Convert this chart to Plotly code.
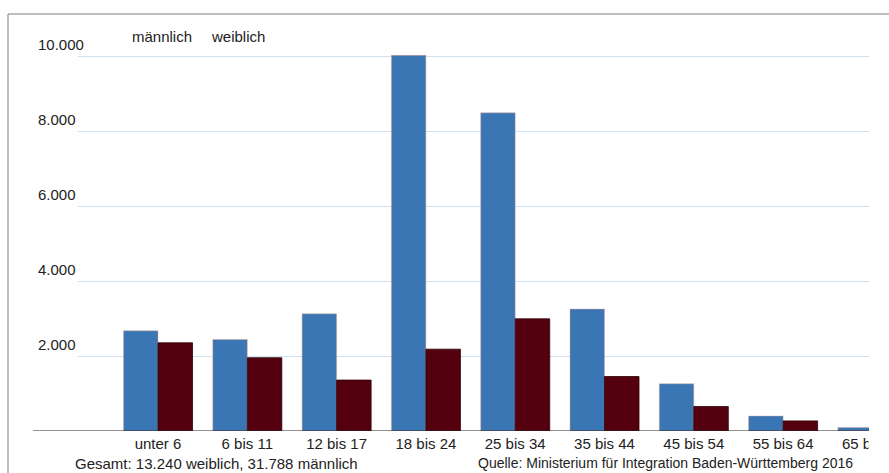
import plotly.graph_objects as go

# Age groups and refugee counts (Baden-Württemberg, 2016)
age_groups = ["unter 6", "6 bis 11", "12 bis 17", "18 bis 24", "25 bis 34",
              "35 bis 44", "45 bis 54", "55 bis 64", "65 bis 74"]
maennlich = [2675, 2445, 3130, 10030, 8495, 3255, 1262, 400, 96]
weiblich = [2355, 1955, 1360, 2185, 2995, 1455, 655, 270, 10]
y_ticks = [2000, 4000, 6000, 8000, 10000]

W, H = 889, 473
ML, MR, MT, MB = 78, 20, 40, 42
PW, PH = W - ML - MR, H - MT - MB
Y_MAX = 10440
X_RANGE = [-0.896, 7.962]


def px_x(p):
    return (p - ML) / PW


def px_y(p):
    return (H - MB - p) / PH


def cat_to_paper(i):
    return (i - X_RANGE[0]) / (X_RANGE[1] - X_RANGE[0])


def de_num(v):
    return f"{v:,}".replace(",", ".")


BLUE = "#3a76b3"
RED = "#55000f"
TXT = "#222222"
FONT = "Liberation Sans, Arial, sans-serif"

fig = go.Figure()
fig.add_bar(x=age_groups, y=maennlich, name="männlich",
            marker=dict(color=BLUE, line=dict(color="rgba(225,160,150,0.55)", width=0.8)))
fig.add_bar(x=age_groups, y=weiblich, name="weiblich",
            marker=dict(color=RED, line=dict(color="#2a0006", width=0.8)))

annotations = []
for t in y_ticks:
    annotations.append(dict(x=px_x(36), xref="paper", y=t, yref="y",
                            text=de_num(t), showarrow=False, xanchor="left",
                            yanchor="middle", yshift=12,
                            font=dict(size=15, color=TXT, family=FONT)))

annotations += [
    # last category sits past the right edge of the axis, its label is cut off
    dict(x=cat_to_paper(len(age_groups) - 1), xref="paper", y=px_y(443), yref="paper",
         text=age_groups[-1], showarrow=False, xanchor="center", yanchor="middle",
         font=dict(size=15, color=TXT, family=FONT)),
    # white strip that crops the right end of the chart area
    dict(x=px_x(868), xref="paper", y=px_y(443), yref="paper", text=" ",
         showarrow=False, xanchor="left", yanchor="middle", width=40, height=22,
         bgcolor="white", borderpad=0, font=dict(size=10)),
    dict(x=px_x(130), y=px_y(37), xref="paper", yref="paper", text="männlich",
         showarrow=False, xanchor="left", yanchor="middle",
         font=dict(size=15, color=TXT, family=FONT)),
    dict(x=px_x(209), y=px_y(37), xref="paper", yref="paper", text="weiblich",
         showarrow=False, xanchor="left", yanchor="middle",
         font=dict(size=15, color=TXT, family=FONT)),
    dict(x=px_x(73), y=px_y(463), xref="paper", yref="paper",
         text="Gesamt: 13.240 weiblich, 31.788 männlich",
         showarrow=False, xanchor="left", yanchor="middle",
         font=dict(size=15, color=TXT, family=FONT)),
    dict(x=px_x(476), y=px_y(463), xref="paper", yref="paper",
         text="Quelle: Ministerium für Integration Baden-Württemberg 2016",
         showarrow=False, xanchor="left", yanchor="middle",
         font=dict(size=14, color=TXT, family=FONT)),
]

shapes = [
    # outer frame (top and left edges)
    dict(type="line", xref="paper", yref="paper", x0=px_x(8), x1=px_x(W + 5),
         y0=px_y(14), y1=px_y(14), line=dict(color="#a9a9ae", width=1.5), layer="above"),
    dict(type="line", xref="paper", yref="paper", x0=px_x(8), x1=px_x(8),
         y0=px_y(14), y1=px_y(H + 5), line=dict(color="#a9a9ae", width=1.5), layer="above"),
    # baseline
    dict(type="line", xref="paper", yref="y", x0=px_x(33), x1=1, y0=0, y1=0,
         line=dict(color="#2e2424", width=1.2), layer="above"),
    dict(type="line", xref="paper", yref="y", ysizemode="pixel", yanchor=0,
         x0=px_x(33), x1=1, y0=-1.2, y1=-1.2,
         line=dict(color="#e8907c", width=0.8), layer="above"),
]

fig.update_layout(
    width=W, height=H,
    margin=dict(l=ML, r=MR, t=MT, b=MB, pad=0),
    paper_bgcolor="white", plot_bgcolor="white",
    barmode="group", bargap=0.227, bargroupgap=0,
    showlegend=False,
    font=dict(family=FONT, size=15, color=TXT),
    annotations=annotations,
    shapes=shapes,
    xaxis=dict(range=X_RANGE, showgrid=False, showline=False,
               zeroline=False, ticks="", tickfont=dict(size=15, color=TXT, family=FONT),
               ticklabelstandoff=2),
    yaxis=dict(range=[0, Y_MAX], tickvals=y_ticks, showticklabels=False,
               showgrid=True, gridcolor="#cfe0ee", gridwidth=1,
               zeroline=False, showline=False, ticks=""),
)

fig.write_html("out.html")
